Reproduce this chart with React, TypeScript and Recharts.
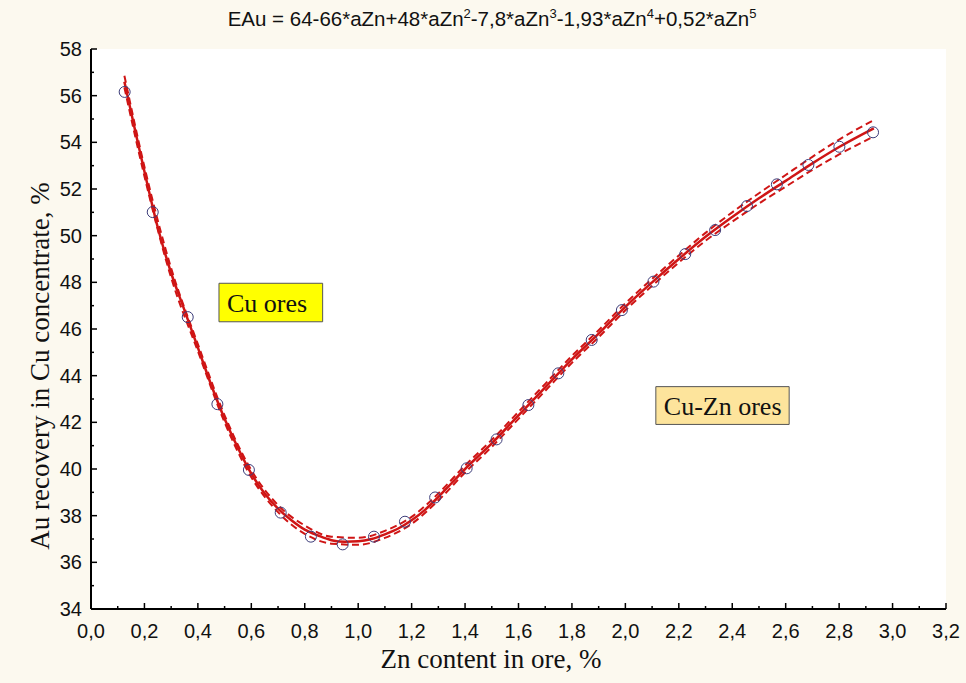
import React from 'react';
import {
  ComposedChart,
  Line,
  Scatter,
  XAxis,
  YAxis,
  CartesianGrid,
  ReferenceArea,
} from 'recharts';

// measured points (Zn content, Au recovery)
const pointX = [0.126, 0.231, 0.362, 0.473, 0.591, 0.71, 0.823, 0.942, 1.059, 1.175, 1.288, 1.406, 1.518, 1.637, 1.749, 1.874, 1.987, 2.105, 2.224, 2.336, 2.455, 2.567, 2.685, 2.801, 2.927];
const pointY = [56.16, 51.01, 46.51, 42.78, 39.96, 38.13, 37.1, 36.77, 37.1, 37.74, 38.78, 40.03, 41.27, 42.74, 44.1, 45.53, 46.81, 48.03, 49.21, 50.24, 51.27, 52.2, 53.03, 53.81, 54.43];

// fitted curve
const fitX = [0.125, 0.15, 0.175, 0.2, 0.25, 0.3, 0.35, 0.4, 0.45, 0.5, 0.55, 0.6, 0.65, 0.7, 0.75, 0.8, 0.85, 0.9, 0.95, 1.0, 1.05, 1.1, 1.15, 1.2, 1.25, 1.3, 1.35, 1.4, 1.5, 1.6, 1.7, 1.8, 1.9, 2.0, 2.1, 2.2, 2.3, 2.4, 2.5, 2.6, 2.7, 2.8, 2.93];
const fitY = [56.6, 55.3, 54.0, 52.75, 50.35, 48.4, 46.8, 45.2, 43.6, 42.15, 40.9, 39.8, 38.95, 38.3, 37.8, 37.4, 37.15, 36.95, 36.88, 36.9, 37.0, 37.2, 37.45, 37.8, 38.25, 38.8, 39.4, 40.0, 41.1, 42.3, 43.5, 44.7, 45.8, 46.95, 48.0, 49.0, 49.95, 50.8, 51.6, 52.35, 53.1, 53.8, 54.6];

// confidence band
const bandX = [0.125, 0.2, 0.3, 0.4, 0.5, 0.6, 0.7, 0.8, 0.9, 1.0, 1.1, 1.2, 1.3, 1.4, 1.5, 1.6, 1.7, 1.8, 1.9, 2.0, 2.1, 2.2, 2.3, 2.4, 2.5, 2.6, 2.7, 2.8, 2.93];
const bandUpper = [56.85, 52.95, 48.6, 45.35, 42.3, 39.95, 38.45, 37.58, 37.1, 37.05, 37.35, 37.95, 38.95, 40.15, 41.25, 42.45, 43.65, 44.85, 45.95, 47.1, 48.15, 49.15, 50.12, 51.0, 51.82, 52.6, 53.38, 54.12, 54.95];
const bandLower = [56.35, 52.55, 48.2, 45.05, 42.0, 39.65, 38.15, 37.22, 36.8, 36.75, 37.05, 37.65, 38.65, 39.85, 40.95, 42.15, 43.35, 44.55, 45.65, 46.8, 47.85, 48.85, 49.78, 50.6, 51.38, 52.1, 52.82, 53.48, 54.25];

const xMajorTicks = [0, 0.2, 0.4, 0.6, 0.8, 1.0, 1.2, 1.4, 1.6, 1.8, 2.0, 2.2, 2.4, 2.6, 2.8, 3.0, 3.2];
const xMinorTicks = [0.1, 0.3, 0.5, 0.7, 0.9, 1.1, 1.3, 1.5, 1.7, 1.9, 2.1, 2.3, 2.5, 2.7, 2.9, 3.1];
const yMajorTicks = [34, 36, 38, 40, 42, 44, 46, 48, 50, 52, 54, 56, 58];
const yMinorTicks = [35, 37, 39, 41, 43, 45, 47, 49, 51, 53, 55, 57];

const points = pointX.map((x, i) => ({ x, y: pointY[i] }));
const fit = fitX.map((x, i) => ({ x, y: fitY[i] }));
const upper = bandX.map((x, i) => ({ x, y: bandUpper[i] }));
const lower = bandX.map((x, i) => ({ x, y: bandLower[i] }));

const xAll = [...xMajorTicks, ...xMinorTicks].sort((a, b) => a - b);
const yAll = [...yMajorTicks, ...yMinorTicks].sort((a, b) => a - b);

const RED = '#cf1515';
const tickFont = '"Liberation Sans", Arial, sans-serif';
const serif = '"Liberation Serif", "Times New Roman", serif';

const isMajor = (v: number, list: number[]) => list.some((t) => Math.abs(t - v) < 1e-6);
const fmt = (v: number) => v.toFixed(1).replace('.', ',');

const BottomTick = (props: any) => {
  const { x, y, payload } = props;
  const major = isMajor(payload.value, xMajorTicks);
  return (
    <g>
      <line x1={x} x2={x} y1={y} y2={y - (major ? 6 : 3)} stroke="#000" strokeWidth={1.5} />
      {major && (
        <text x={x} y={y + 29} textAnchor="middle" fontSize={20} fontFamily={tickFont} fill="#111">
          {fmt(payload.value)}
        </text>
      )}
    </g>
  );
};

const TopTick = (props: any) => {
  const { x, y, payload } = props;
  const major = isMajor(payload.value, xMajorTicks);
  return <line x1={x} x2={x} y1={y} y2={y + (major ? 6 : 3)} stroke="#000" strokeWidth={1.5} />;
};

const LeftTick = (props: any) => {
  const { x, y, payload } = props;
  const major = isMajor(payload.value, yMajorTicks);
  return (
    <g>
      <line x1={x} x2={x + (major ? 6 : 3)} y1={y} y2={y} stroke="#000" strokeWidth={1.5} />
      {major && (
        <text x={x - 9} y={y + 7} textAnchor="end" fontSize={20} fontFamily={tickFont} fill="#111">
          {payload.value}
        </text>
      )}
    </g>
  );
};

const RightTick = (props: any) => {
  const { x, y, payload } = props;
  const major = isMajor(payload.value, yMajorTicks);
  return <line x1={x} x2={x - (major ? 6 : 3)} y1={y} y2={y} stroke="#000" strokeWidth={1.5} />;
};

const boxLabel = (text: string) => (props: any) => {
  const { viewBox } = props;
  return (
    <text
      x={viewBox.x + 8}
      y={viewBox.y + viewBox.height / 2 + 9}
      fontSize={26}
      fontFamily={serif}
      fill="#111"
    >
      {text}
    </text>
  );
};

const supStyle = { fontSize: 13 };

export default function App() {
  return (
    <div
      style={{
        position: 'absolute',
        left: 0,
        top: 0,
        width: 966,
        height: 683,
        background: '#fcf9ef',
        overflow: 'hidden',
      }}
    >
      <div
        style={{
          position: 'absolute',
          top: 6,
          left: 0,
          width: 984,
          textAlign: 'center',
          fontFamily: tickFont,
          fontSize: 20.5,
          color: '#111',
        }}
      >
        EAu = 64-66*aZn+48*aZn<sup style={supStyle}>2</sup>-7,8*aZn<sup style={supStyle}>3</sup>
        -1,93*aZn<sup style={supStyle}>4</sup>+0,52*aZn<sup style={supStyle}>5</sup>
      </div>

      <ComposedChart width={966} height={683} margin={{ top: 49, right: 20, bottom: 0, left: 0 }}>
        <CartesianGrid
          fill="#ffffff"
          stroke="#d8d8d8"
          verticalValues={xMajorTicks}
          horizontalValues={yMajorTicks}
        />
        <XAxis
          xAxisId="bottom"
          dataKey="x"
          type="number"
          domain={[0, 3.2]}
          ticks={xAll}
          interval={0}
          allowDataOverflow
          height={74}
          tickSize={0}
          tickMargin={0}
          tickLine={false}
          tick={<BottomTick />}
          axisLine={{ stroke: '#000', strokeWidth: 2 }}
        />
        <XAxis
          xAxisId="top"
          orientation="top"
          dataKey="x"
          type="number"
          domain={[0, 3.2]}
          ticks={xAll}
          interval={0}
          allowDataOverflow
          height={0}
          tickSize={0}
          tickMargin={0}
          tickLine={false}
          tick={<TopTick />}
          axisLine={{ stroke: '#000', strokeWidth: 2 }}
        />
        <YAxis
          yAxisId="left"
          type="number"
          domain={[34, 58]}
          ticks={yAll}
          interval={0}
          allowDataOverflow
          width={91}
          tickSize={0}
          tickMargin={0}
          tickLine={false}
          tick={<LeftTick />}
          axisLine={{ stroke: '#000', strokeWidth: 2 }}
        />
        <YAxis
          yAxisId="right"
          orientation="right"
          type="number"
          domain={[34, 58]}
          ticks={yAll}
          interval={0}
          allowDataOverflow
          width={0}
          tickSize={0}
          tickMargin={0}
          tickLine={false}
          tick={<RightTick />}
          axisLine={{ stroke: '#000', strokeWidth: 2 }}
        />

        <ReferenceArea
          xAxisId="bottom"
          yAxisId="left"
          x1={0.479}
          x2={0.867}
          y1={46.31}
          y2={47.96}
          fill="#ffff00"
          fillOpacity={1}
          stroke="#555"
          strokeWidth={1}
          label={boxLabel('Cu ores')}
        />
        <ReferenceArea
          xAxisId="bottom"
          yAxisId="left"
          x1={2.114}
          x2={2.613}
          y1={41.91}
          y2={43.53}
          fill="#fde49c"
          fillOpacity={1}
          stroke="#555"
          strokeWidth={1}
          label={boxLabel('Cu-Zn ores')}
        />

        <Line
          xAxisId="bottom"
          yAxisId="left"
          data={upper}
          dataKey="y"
          type="monotone"
          stroke={RED}
          strokeWidth={2}
          strokeDasharray="7 4"
          dot={false}
          activeDot={false}
          isAnimationActive={false}
        />
        <Line
          xAxisId="bottom"
          yAxisId="left"
          data={lower}
          dataKey="y"
          type="monotone"
          stroke={RED}
          strokeWidth={2}
          strokeDasharray="7 4"
          dot={false}
          activeDot={false}
          isAnimationActive={false}
        />
        <Line
          xAxisId="bottom"
          yAxisId="left"
          data={fit}
          dataKey="y"
          type="monotone"
          stroke={RED}
          strokeWidth={2.5}
          dot={false}
          activeDot={false}
          isAnimationActive={false}
        />
        <Scatter
          xAxisId="bottom"
          yAxisId="left"
          data={points}
          dataKey="y"
          fill="none"
          stroke="#3d3d7a"
          strokeWidth={1}
          shape={(p: any) => (
            <circle cx={p.cx} cy={p.cy} r={5.5} fill="none" stroke="#3d3d7a" strokeWidth={1} />
          )}
          isAnimationActive={false}
        />
      </ComposedChart>

      <div
        style={{
          position: 'absolute',
          left: 0,
          top: 644,
          width: 982,
          textAlign: 'center',
          fontFamily: serif,
          fontSize: 27,
          color: '#111',
        }}
      >
        Zn content in ore, %
      </div>
      <div
        style={{
          position: 'absolute',
          left: 40,
          top: 366,
          width: 0,
          height: 0,
        }}
      >
        <div
          style={{
            position: 'absolute',
            left: 0,
            top: 0,
            transform: 'translate(-50%, -50%) rotate(-90deg)',
            whiteSpace: 'nowrap',
            fontFamily: serif,
            fontSize: 27,
            color: '#111',
          }}
        >
          Au recovery in Cu concentrate, %
        </div>
      </div>
    </div>
  );
}
